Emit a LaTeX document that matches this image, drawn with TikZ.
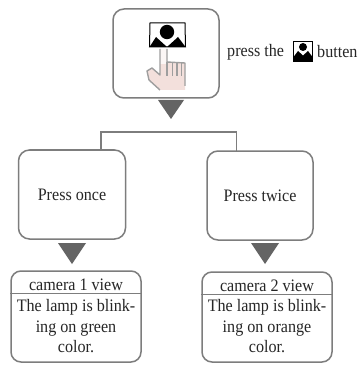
\documentclass[tikz,border=0pt]{standalone}
\usepackage{fontspec}
\setmainfont[FakeStretch=0.92]{Liberation Serif}
\definecolor{edge}{RGB}{125,125,125}
\definecolor{tri}{RGB}{100,100,100}
\definecolor{skin}{RGB}{243,224,220}
\tikzset{
  boxbig/.style={draw=edge,line width=1.5pt,rounded corners=11pt,fill=white,inner sep=0pt},
  boxsmall/.style={draw=edge,line width=1.5pt,rounded corners=10pt,fill=white,inner sep=0pt},
  link/.style={draw=edge,line width=1.5pt},
  pointer/.style={fill=tri,draw=none},
  txt/.style={font=\fontsize{17.5}{20.5}\selectfont,text=black!85,inner sep=0pt,align=center},
  handline/.style={draw=black!38,line width=1.4pt,line join=round}
}
\begin{document}
\begin{tikzpicture}[x=1pt,y=-1pt]
\useasboundingbox (0,0) rectangle (360,366);
\fill[white] (0,0) rectangle (360,366);
% top box
\node[boxbig,minimum width=106pt,minimum height=89pt] (top) at (166,53.5) {};
% hand
\fill[skin] (160,49) -- (167,49) -- (167,62) -- (185,63) -- (185,90) -- (161,90) -- (149,80) -- (147,71) -- (152,68) -- (160,75) -- cycle;
\fill[white!70!skin] (160,49) rectangle (167,64);
\draw[handline] (185,86) -- (185,63) -- (167,62) -- (167,49) (160,49) -- (160,75) -- (152,68) -- (147,71) -- (149,80) -- (160,90);
\draw[handline,line width=1.1pt] (167,62)--(167,76) (172.5,63)--(172.5,76) (177,63)--(177,76) (181.5,63)--(181.5,76);
% camera icon in the box
\draw[black,line width=1pt,fill=white] (150,23) -- (185,23) -- (185.5,47) -- (149.5,47) -- cycle;
\fill[black] (149.5,47) -- (156,37) -- (167,47) -- (178,37) -- (185.5,47) -- cycle;
\fill[black] (167,32) circle (7.2);
% pointers
\fill[pointer] (158,100) -- (184,100) -- (171,119) -- cycle;
% labels top
\node[txt,anchor=west] (presslabel) at (227,52) {press the};
% inline icon
\draw[black,line width=1pt,fill=white] (293.5,42) -- (312.5,42) -- (312.5,61.5) -- (293.5,61.5) -- cycle;
\fill[black] (293.5,61.5) -- (293.5,57) -- (298,51) -- (303,55.5) -- (308,51) -- (312.5,57) -- (312.5,61.5) -- cycle;
\fill[black] (303,47) circle (4);
\node[txt,anchor=west] (buttenlabel) at (317,52) {butten};
% middle boxes
\node[boxbig,minimum width=107pt,minimum height=89pt,txt] (once) at (72,194.5) {Press once};
\node[boxbig,minimum width=106pt,minimum height=89pt,txt] (twice) at (260,195.5) {Press twice};
\coordinate (onceTop) at (101,150);
\coordinate (twiceTop) at (236.5,151);
\coordinate (joint) at (171,132);
\draw[link] (onceTop) |- (joint) -| (twiceTop);
% second pointers
\fill[pointer] (58,243) -- (86,243) -- (72,264) -- cycle;
\fill[pointer] (251,243) -- (279,243) -- (265,264) -- cycle;
% bottom boxes
\node[boxsmall,minimum width=130pt,minimum height=91pt] (cam1) at (76,316.5) {};
\node[boxsmall,minimum width=130pt,minimum height=90pt] (cam2) at (267,317) {};
\coordinate (div1) at (76,293);
\coordinate (div2) at (267,294);
\draw[draw=edge,line width=1pt] (cam1.west |- div1) -- (cam1.east |- div1);
\draw[draw=edge,line width=1pt] (cam2.west |- div2) -- (cam2.east |- div2);
\node[txt] (title1) at (76,284.5) {camera 1 view};
\node[txt] (title2) at (267,285.5) {camera 2 view};
\node[txt] (body1) at (76,326.5) {The lamp is blink-\\ing on green\\color.};
\node[txt] (body2) at (267,326.5) {The lamp is blink-\\ing on orange\\color.};
\end{tikzpicture}
\end{document}
